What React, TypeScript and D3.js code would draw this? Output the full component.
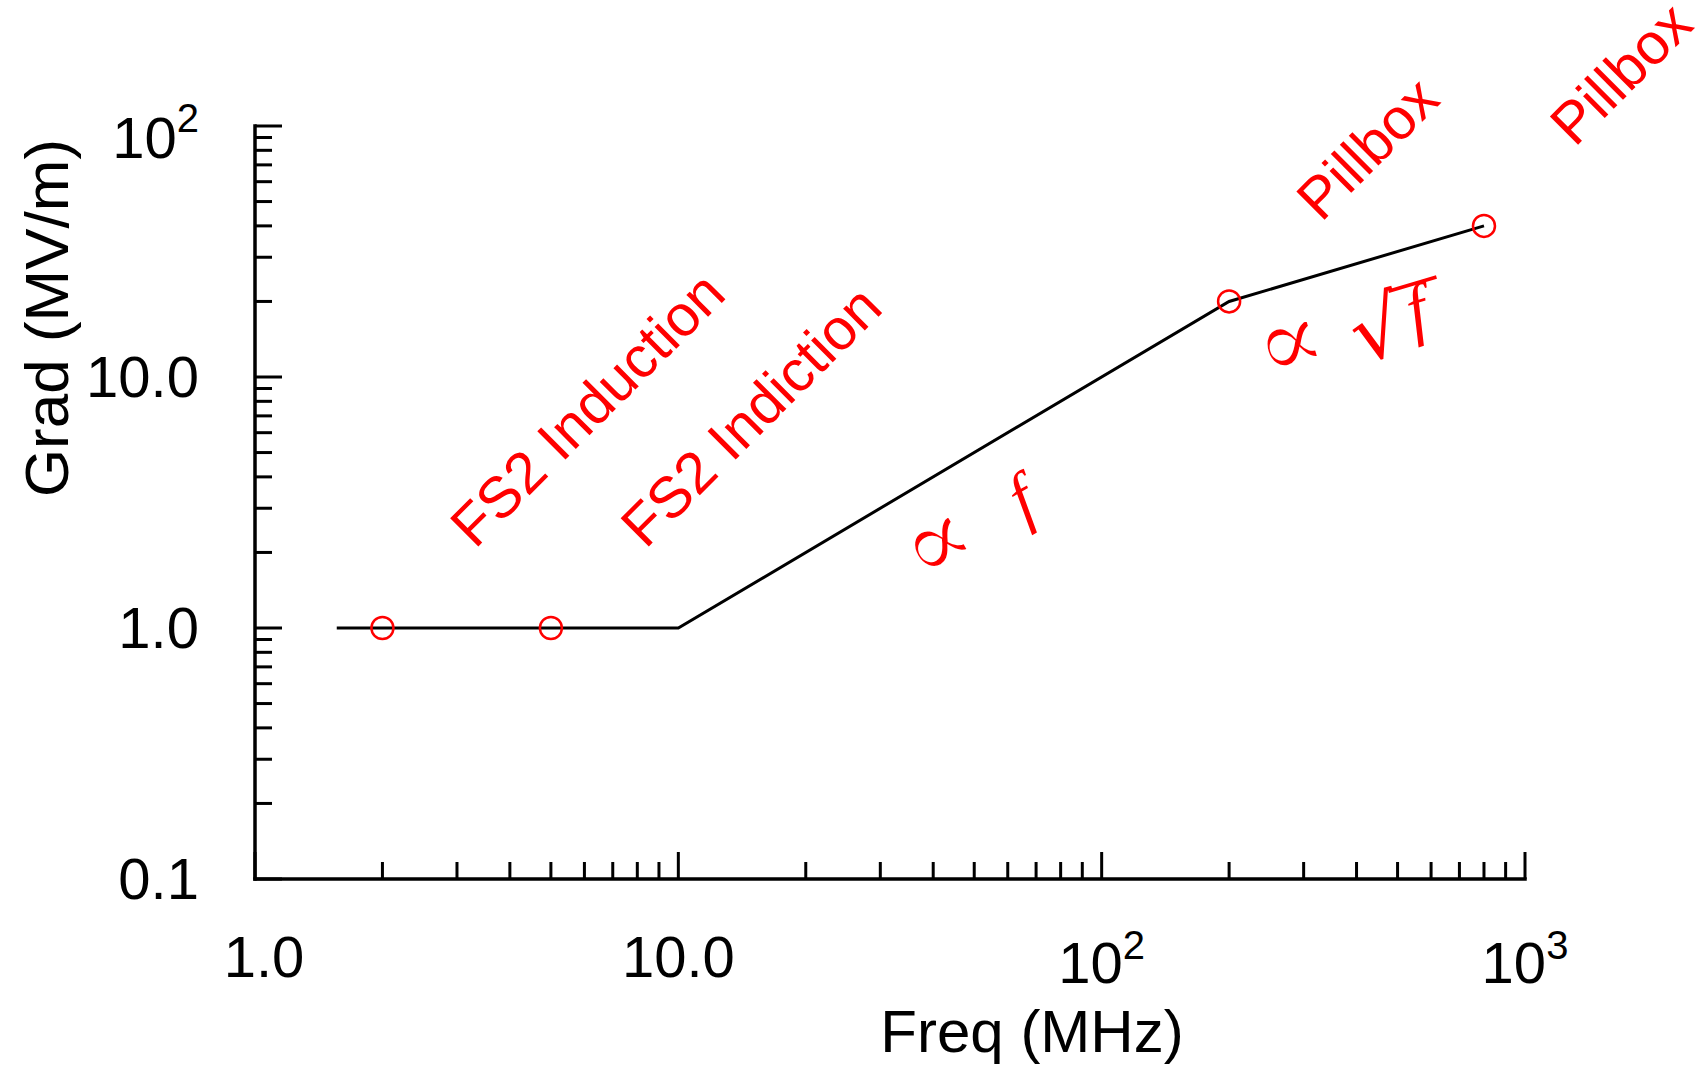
import React from "react";
import * as d3 from "d3";

// ---- data ----
const lineFreq = [1.56, 10, 200, 800];
const lineGrad = [1, 1, 20, 40];

const pointFreq = [2, 5, 200, 800];
const pointGrad = [1, 1, 20, 40];

const textLabels = ["FS2 Induction", "FS2 Indiction", "Pillbox", "Pillbox"];
const textLabelFreq = [3.31, 8.36, 330, 1310];
const textLabelGrad = [2.05, 2.05, 41.1, 81.7];

const xTickValues = [1, 10, 100, 1000];
const xTickBase = ["1.0", "10.0", "10", "10"];
const xTickSup = ["", "", "2", "3"];
const yTickValues = [0.1, 1, 10, 100];
const yTickBase = ["0.1", "1.0", "10.0", "10"];
const yTickSup = ["", "", "", "2"];

const xTitle = "Freq (MHz)";
const yTitle = "Grad (MV/m)";

const W = 1702;
const H = 1070;
const SANS = "'Liberation Sans', Arial, sans-serif";
const SERIF = "'Liberation Serif', 'DejaVu Serif', serif";

function minorTicks(lo: number, hi: number) {
  const out: { v: number; major: boolean }[] = [];
  for (let dec = lo; dec < hi; dec *= 10) {
    for (let k = 1; k <= 9; k++) out.push({ v: dec * k, major: k === 1 });
  }
  out.push({ v: hi, major: true });
  return out;
}

function Prop() {
  return (
    <text
      x={-4}
      y={6}
      fontFamily="'DejaVu Serif', serif"
      fontSize={102}
      fill="#ff0000"
      stroke="#ffffff"
      strokeWidth={2.2}
      style={{ paintOrder: "fill" }}
    >
      ∝
    </text>
  );
}

export default function App() {
  const x = d3.scaleLog().domain([1, 1000]).range([255, 1525]);
  const y = d3.scaleLog().domain([0.1, 100]).range([879, 126]);

  const line = d3
    .line<number>()
    .x((_, i) => x(lineFreq[i]))
    .y((_, i) => y(lineGrad[i]));

  const xt = minorTicks(1, 1000);
  const yt = minorTicks(0.1, 100);

  const propAnchor = { x: x(38), y: y(1.54) };
  const sqrtAnchor = { x: x(247), y: y(10) };

  return (
    <svg
      width={W}
      height={H}
      style={{ position: "absolute", left: 0, top: 0, background: "#fff" }}
    >
      <rect x={0} y={0} width={W} height={H} fill="#fff" />
      {/* math labels (drawn first so the line stays on top) */}
      <g transform={`translate(${propAnchor.x},${propAnchor.y}) rotate(-30)`}>
        <Prop />
        <text x={116} y={0} fontFamily={SERIF} fontStyle="italic" fontSize={68} fill="#ff0000">
          f
        </text>
      </g>
      <g transform={`translate(${sqrtAnchor.x},${sqrtAnchor.y}) rotate(-16.5)`}>
        <Prop />
        <text x={92} y={14} fontFamily="'DejaVu Sans', sans-serif" fontSize={82} fill="#ff0000">
          √
        </text>
        <line x1={140} x2={190} y1={-48} y2={-48} stroke="#ff0000" strokeWidth={3.5} />
        <text x={152} y={0} fontFamily={SERIF} fontStyle="italic" fontSize={68} fill="#ff0000">
          f
        </text>
      </g>
      {/* data line */}
      <path d={line(lineFreq) || ""} fill="none" stroke="#000" strokeWidth={3} />
      {/* circles */}
      {pointFreq.map((f, i) => (
        <circle
          key={i}
          cx={x(f)}
          cy={y(pointGrad[i])}
          r={11}
          fill="none"
          stroke="#ff0000"
          strokeWidth={2.5}
        />
      ))}
      {/* axes */}
      <line x1={x(1)} x2={x(1000)} y1={y(0.1)} y2={y(0.1)} stroke="#000" strokeWidth={3.5} strokeLinecap="square" />
      <line x1={x(1)} x2={x(1)} y1={y(0.1)} y2={y(100)} stroke="#000" strokeWidth={3.5} strokeLinecap="square" />
      {xt.map((t, i) => (
        <line
          key={"xt" + i}
          x1={x(t.v)}
          x2={x(t.v)}
          y1={y(0.1)}
          y2={y(0.1) - (t.major ? 27 : 17)}
          stroke="#000"
          strokeWidth={3}
        />
      ))}
      {yt.map((t, i) => (
        <line
          key={"yt" + i}
          x1={x(1)}
          x2={x(1) + (t.major ? 27 : 17)}
          y1={y(t.v)}
          y2={y(t.v)}
          stroke="#000"
          strokeWidth={3}
        />
      ))}
      {/* x tick labels */}
      {xTickValues.map((v, i) => (
        <text
          key={"xl" + i}
          x={x(v) + (i === 0 ? 9 : 0)}
          y={xTickSup[i] ? 983 : 977}
          textAnchor="middle"
          fontFamily={SANS}
          fontSize={58}
          fill="#000"
        >
          {xTickBase[i]}
          {xTickSup[i] ? (
            <tspan fontSize={40} dy={-24}>
              {xTickSup[i]}
            </tspan>
          ) : null}
        </text>
      ))}
      {/* y tick labels */}
      {yTickValues.map((v, i) => (
        <text
          key={"yl" + i}
          x={199}
          y={y(v) + (yTickSup[i] ? 32 : 20)}
          textAnchor="end"
          fontFamily={SANS}
          fontSize={58}
          fill="#000"
        >
          {yTickBase[i]}
          {yTickSup[i] ? (
            <tspan fontSize={40} dy={-26}>
              {yTickSup[i]}
            </tspan>
          ) : null}
        </text>
      ))}
      {/* axis titles */}
      <text x={1032} y={1052} textAnchor="middle" fontFamily={SANS} fontSize={60} fill="#000">
        {xTitle}
      </text>
      <text
        transform={`translate(68,318) rotate(-90)`}
        textAnchor="middle"
        fontFamily={SANS}
        fontSize={62}
        fill="#000"
      >
        {yTitle}
      </text>
      {/* red rotated labels */}
      {textLabels.map((t, i) => (
        <text
          key={"tl" + i}
          transform={`translate(${x(textLabelFreq[i])},${y(textLabelGrad[i])}) rotate(-45)`}
          fontFamily={SANS}
          fontSize={58}
          fill="#ff0000"
        >
          {t}
        </text>
      ))}
    </svg>
  );
}
